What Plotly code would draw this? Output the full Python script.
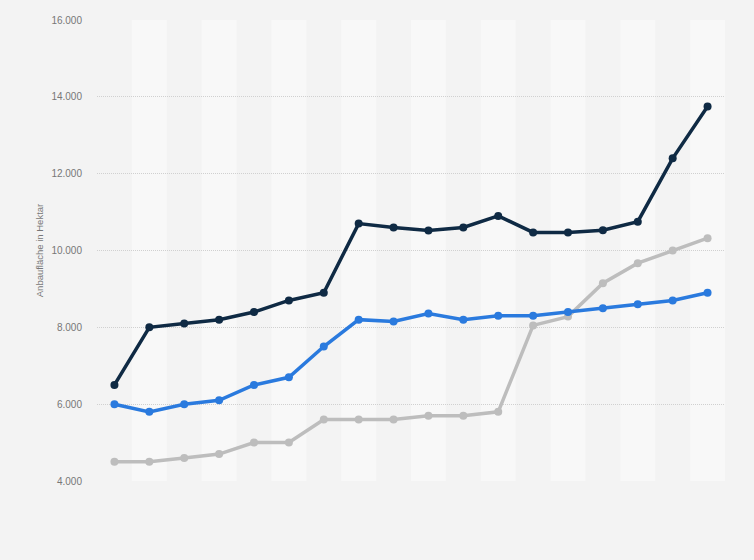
import plotly.graph_objects as go

categories = [str(y) for y in range(2005, 2023)]
series_dark = [6500, 8000, 8100, 8200, 8400, 8700, 8900, 10700, 10600, 10520, 10600, 10900,
               10470, 10470, 10530, 10750, 12400, 13750]
series_blue = [6000, 5800, 6000, 6100, 6500, 6700, 7500, 8200, 8150, 8360, 8200, 8300,
               8300, 8400, 8500, 8600, 8700, 8900]
series_gray = [4500, 4500, 4600, 4700, 5000, 5000, 5600, 5600, 5600, 5700, 5700, 5800,
               8050, 8280, 9150, 9670, 10000, 10320]
y_ticks = [4000, 6000, 8000, 10000, 12000, 14000, 16000]
y_tick_labels = ["4.000", "6.000", "8.000", "10.000", "12.000", "14.000", "16.000"]

x_idx = list(range(len(categories)))

fig = go.Figure()

# alternating background bands
shapes = []
for i in x_idx:
    if i % 2 == 1:
        shapes.append(dict(type="rect", xref="x", yref="y", x0=i - 0.5, x1=i + 0.5,
                           y0=y_ticks[0], y1=y_ticks[-1], fillcolor="#f8f8f8",
                           line=dict(width=0), layer="below"))

for name, vals, color, lw in [
    ("Serie 3", series_gray, "#bdbdbd", 3.5),
    ("Serie 2", series_blue, "#2a7ade", 3.5),
    ("Serie 1", series_dark, "#0f2a44", 3.5),
]:
    fig.add_trace(go.Scatter(
        x=x_idx, y=vals, name=name, mode="lines+markers",
        line=dict(color=color, width=lw),
        marker=dict(color=color, size=8),
        text=categories, hoverinfo="text+y",
    ))

fig.update_layout(
    width=754, height=560,
    margin=dict(l=97, r=29, t=20, b=79),
    paper_bgcolor="#f3f3f3",
    plot_bgcolor="#f3f3f3",
    showlegend=False,
    shapes=shapes,
    font=dict(family="Liberation Sans, Arial, sans-serif", color="#777777"),
)
fig.update_xaxes(
    range=[-0.5, len(categories) - 0.5],
    showticklabels=False, showgrid=False, zeroline=False, showline=False,
)
fig.update_yaxes(
    range=[y_ticks[0], y_ticks[-1]],
    tickvals=y_ticks, ticktext=y_tick_labels,
    tickfont=dict(size=10, color="#777777"),
    showgrid=True, gridcolor="#d0d0d0", griddash="1px,1px", gridwidth=1,
    zeroline=False, showline=False, ticks="", ticklabelstandoff=14,
    title=dict(text="Anbaufläche in Hektar", font=dict(size=9.5, color="#777777"), standoff=6),
)

fig.write_html(
    "out.html",
    config={"displayModeBar": False},
    post_script="document.body.style.margin='0';document.body.style.overflow='hidden';",
)
